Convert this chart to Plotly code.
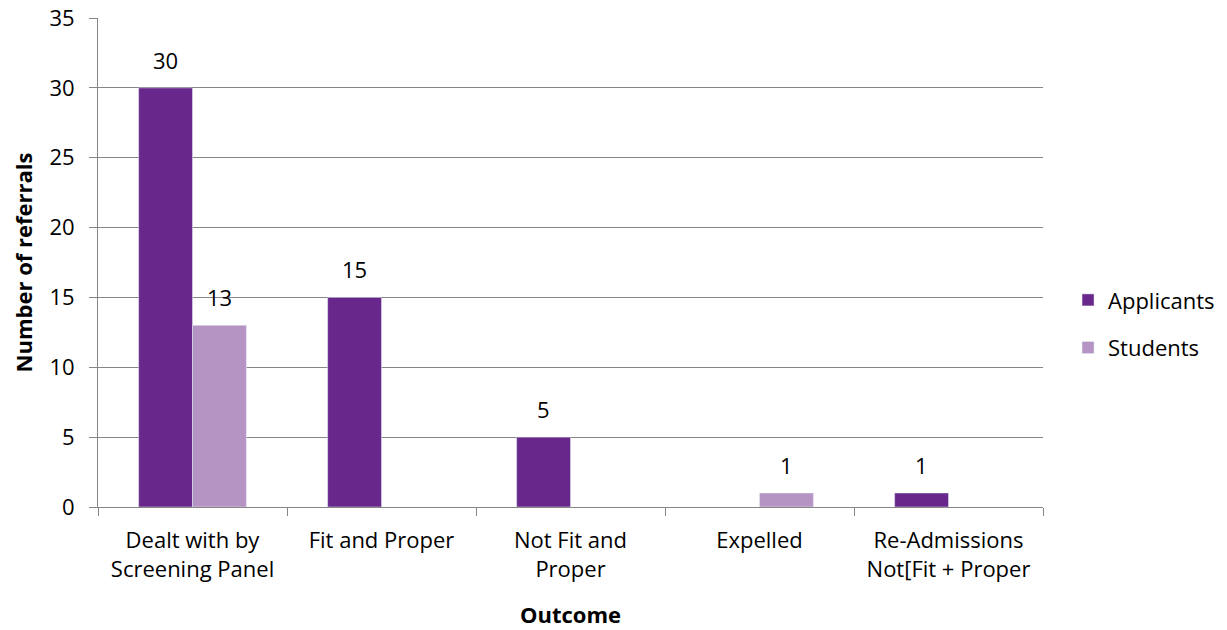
import plotly.graph_objects as go

categories = ["Dealt with by<br>Screening Panel", "Fit and Proper", "Not Fit and<br>Proper",
              "Expelled", "Re-Admissions<br>Not[Fit + Proper"]
applicants = [30, 15, 5, None, 1]
students = [13, None, None, 1, None]
y_ticks = [0, 5, 10, 15, 20, 25, 30, 35]

FONT = "Open Sans, Liberation Sans, sans-serif"
FS = 22
W, H = 1227, 630
ML, MR, MT, MB = 98, 184, 18, 123
BARGAP = 0.43

fig = go.Figure()
fig.add_trace(go.Bar(name="Applicants", x=categories, y=applicants, marker_color="#68278A",
                     legendgroup="a"))
fig.add_trace(go.Bar(name="Students", x=categories, y=students, marker_color="#B593C3",
                     legendgroup="s"))

# data labels
cat_px = (W - ML - MR) / len(categories)
bar_px = cat_px * (1 - BARGAP) / 2
for vals, sign in ((applicants, -1), (students, 1)):
    for c, v in zip(categories, vals):
        if v is None:
            continue
        fig.add_annotation(x=c, y=v, text=str(v), showarrow=False, xref="x", yref="y",
                           xshift=sign * bar_px / 2, yshift=28, yanchor="middle",
                           font=dict(size=FS, color="#000000", family=FONT))

fig.update_layout(
    width=W, height=H,
    margin=dict(l=ML, r=MR, t=MT, b=MB, autoexpand=False),
    plot_bgcolor="white", paper_bgcolor="white",
    font=dict(family=FONT, size=FS, color="#000000"),
    barmode="group", bargap=BARGAP, bargroupgap=0,
    legend=dict(x=1.0265, y=0.374, xanchor="left", yanchor="middle",
                font=dict(size=FS), tracegroupgap=16, itemwidth=30),
    xaxis=dict(title=dict(text="<b>Outcome</b>", font=dict(size=FS), standoff=25),
               showline=True, linecolor="#868686", linewidth=1,
               ticks="outside", tickson="boundaries", ticklen=8, tickcolor="#868686",
               tickfont=dict(size=FS), ticklabelstandoff=14, automargin=False),
    yaxis=dict(title=dict(text="<b>Number of referrals</b>", font=dict(size=FS), standoff=10),
               range=[0, 35], tickvals=y_ticks, showgrid=True, gridcolor="#868686",
               gridwidth=1, showline=True, linecolor="#868686", linewidth=1,
               ticks="outside", ticklen=8, tickcolor="#868686", zeroline=False,
               tickfont=dict(size=FS), ticklabelstandoff=10, automargin=False),
)

fig.write_html("out.html")
